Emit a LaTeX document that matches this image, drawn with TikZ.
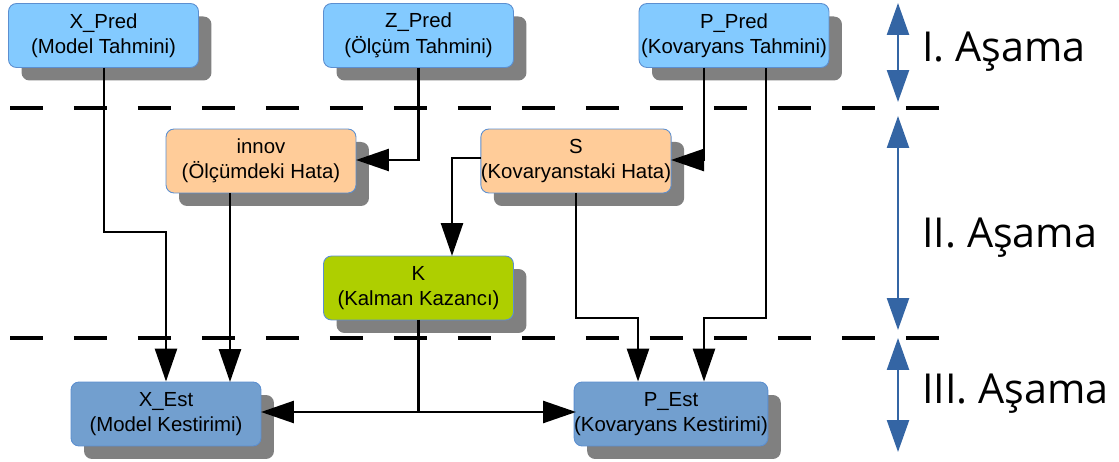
\documentclass[tikz,border=0pt]{standalone}
\usepackage{fontspec}
\setmainfont{Liberation Sans}
\newfontfamily\stagefont{Open Sans}
\usetikzlibrary{arrows.meta,shadows}
\definecolor{topblue}{HTML}{83CAFF}
\definecolor{orangebox}{HTML}{FFCC99}
\definecolor{greenbox}{HTML}{AECF00}
\definecolor{botblue}{HTML}{729FCF}
\definecolor{bordercol}{HTML}{5C8FD0}
\definecolor{shadowgray}{HTML}{808080}
\definecolor{stageblue}{HTML}{3465A4}
\tikzset{
  box/.style={draw=bordercol, line width=0.5pt, rounded corners=0.16cm,
    minimum width=3.8cm, minimum height=1.28cm, inner sep=0pt, align=center,
    font=\fontsize{11.6}{14.5}\selectfont,
    drop shadow={shadow xshift=0.26cm, shadow yshift=-0.26cm, fill=shadowgray, opacity=1}},
  conn/.style={line width=1.5pt, -{Triangle[length=0.66cm,width=0.44cm]}},
  plain/.style={line width=1.5pt},
  sep/.style={line width=2pt, dash pattern=on 0.66cm off 0.62cm},
  stagearr/.style={line width=1.4pt, draw=stageblue, fill=stageblue,
    {Triangle[length=0.64cm,width=0.44cm]}-{Triangle[length=0.64cm,width=0.44cm]}},
  stagelbl/.style={anchor=west, inner sep=0pt, font=\stagefont\fontsize{23.5}{27}\selectfont}
}
\begin{document}
\begin{tikzpicture}[x=0.02cm,y=-0.02cm]
\useasboundingbox (0,0) rectangle (1119,462);
% separators
\coordinate (d1a) at (10,108); \coordinate (d1b) at (939,108);
\coordinate (d2a) at (10,338); \coordinate (d2b) at (939,338);
\draw[sep] (d1a) -- (d1b);
\draw[sep] (d2a) -- (d2b);
% boxes
\node[box, fill=topblue] (XP) at (103.5,35.5) {X\_Pred\\(Model Tahmini)};
\node[box, fill=topblue] (ZP) at (418.5,35.5) {Z\_Pred\\(Ölçüm Tahmini)};
\node[box, fill=topblue] (PP) at (734,35.5) {P\_Pred\\(Kovaryans Tahmini)};
\node[box, fill=orangebox] (IN) at (261,161) {innov\\(Ölçümdeki Hata)};
\node[box, fill=orangebox] (S) at (576,161) {S\\(Kovaryanstaki Hata)};
\node[box, fill=greenbox] (K) at (418.5,288) {K\\(Kalman Kazancı)};
\node[box, fill=botblue] (XE) at (166,414) {X\_Est\\(Model Kestirimi)};
\node[box, fill=botblue] (PE) at (671,414) {P\_Est\\(Kovaryans Kestirimi)};
% helper coordinates
\coordinate (xpb) at (104,68);
\coordinate (xpc) at (104,232);
\coordinate (xpd) at (166,232);
\coordinate (inb) at (230,193);
\coordinate (xet) at (230,382);
\coordinate (zpb) at (418.5,68);
\coordinate (zpc) at (418.5,160);
\coordinate (ine) at (356,160);
\coordinate (ppb1) at (704,68);
\coordinate (ppc1) at (704,160);
\coordinate (se) at (671,160);
\coordinate (sw) at (481,158);
\coordinate (swc) at (452,158);
\coordinate (kt) at (452,256);
\coordinate (sb) at (576,193);
\coordinate (sbc) at (576,318);
\coordinate (sbd) at (638,318);
\coordinate (ppb2) at (766,68);
\coordinate (ppc2) at (766,318);
\coordinate (ppd2) at (704,318);
\coordinate (kb) at (418.5,320);
\coordinate (kc) at (418.5,412);
\coordinate (xee) at (261,412);
\coordinate (pew) at (576,412);
% connectors
\draw[conn] (xpb) -- (xpc) -- (xpd) -- (XE.north);
\draw[conn] (inb) -- (xet);
\draw[conn] (zpb) -- (zpc) -- (ine);
\draw[conn] (ppb1) -- (ppc1) -- (se);
\draw[conn] (sw) -- (swc) -- (kt);
\draw[conn] (sb) -- (sbc) -- (sbd) -- (sbd |- PE.north);
\draw[conn] (ppb2) -- (ppc2) -- (ppd2) -- (ppd2 |- PE.north);
\draw[plain] (kb) -- (kc);
\draw[conn] (kc) -- (xee);
\draw[conn] (kc) -- (pew);
% stage arrows
\coordinate (a1) at (898,3); \coordinate (a2) at (898,102);
\coordinate (b1) at (898,116); \coordinate (b2) at (898,330);
\coordinate (c1) at (898,338); \coordinate (c2) at (898,452);
\draw[stagearr] (a1) -- (a2);
\draw[stagearr] (b1) -- (b2);
\draw[stagearr] (c1) -- (c2);
\node[stagelbl] (L1) at (922,52) {I. Aşama};
\node[stagelbl] (L2) at (922,238) {II. Aşama};
\node[stagelbl] (L3) at (922,394) {III. Aşama};
\end{tikzpicture}
\end{document}
